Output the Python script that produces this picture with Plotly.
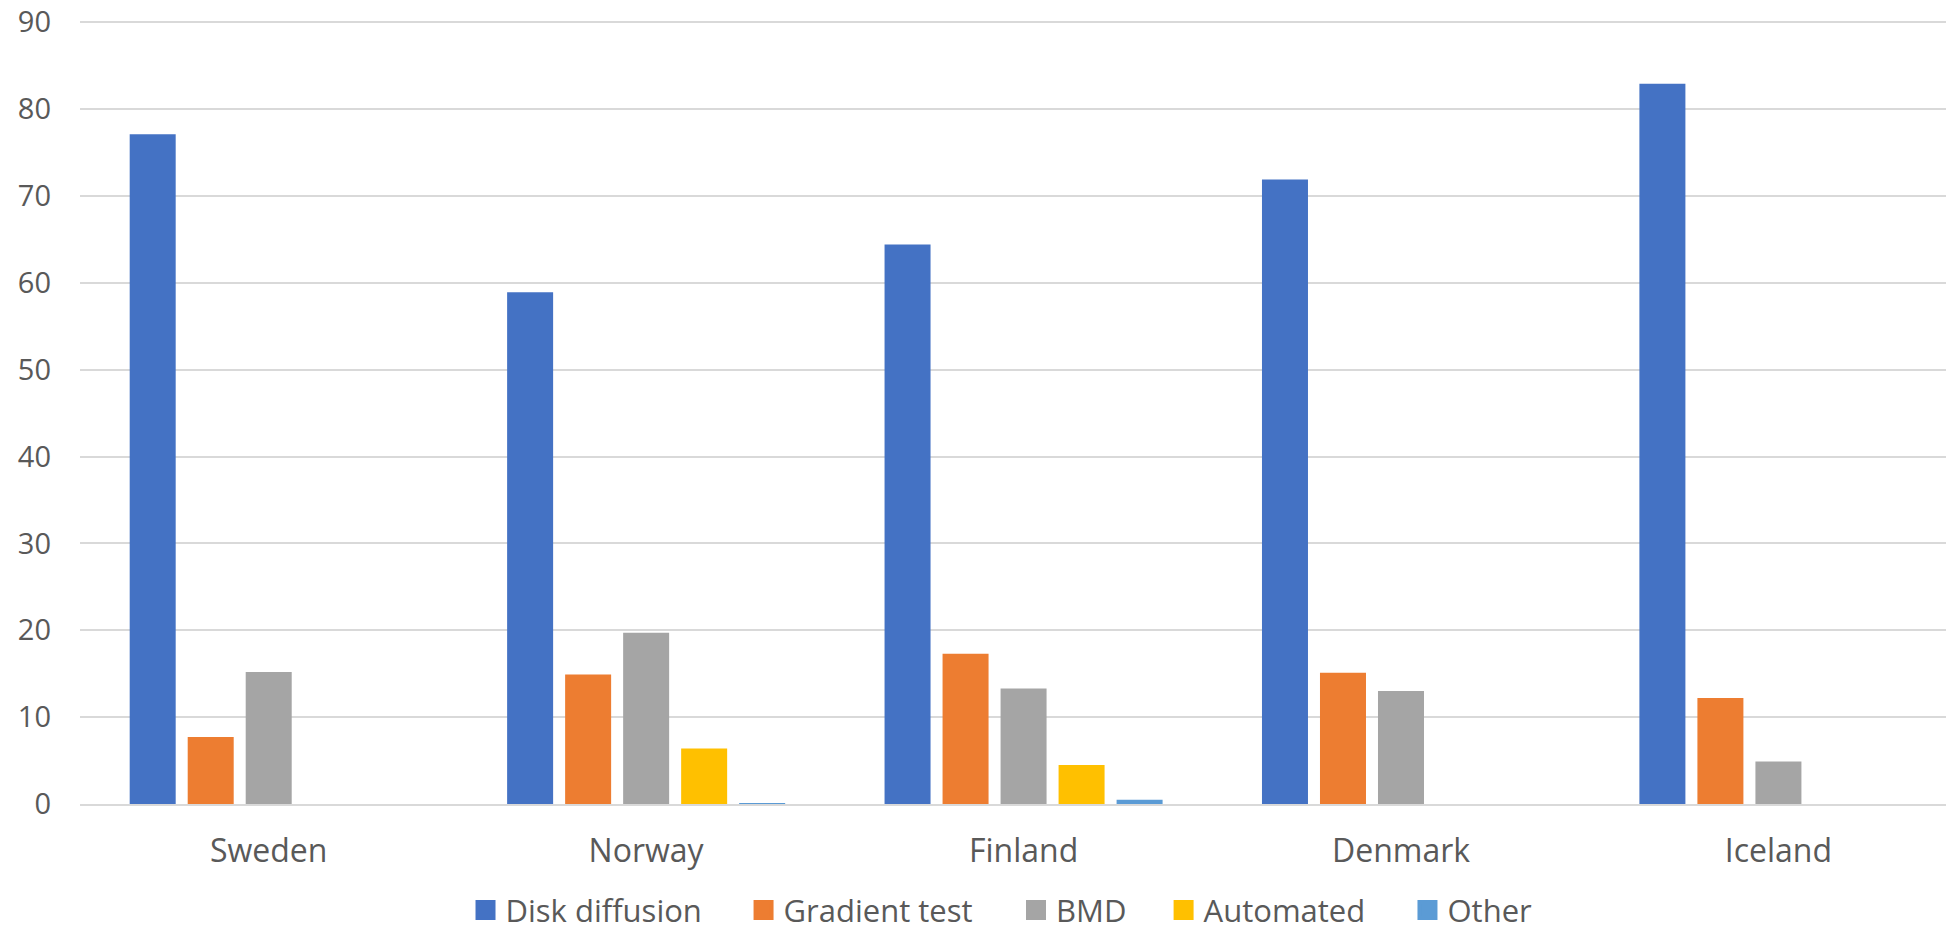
import plotly.graph_objects as go

# Countries on the x axis
countries = ["Sweden", "Norway", "Finland", "Denmark", "Iceland"]

# Share of labs per method (%)
disk_diffusion = [77.1, 58.9, 64.4, 71.9, 82.9]
gradient_test = [7.7, 14.9, 17.3, 15.1, 12.2]
bmd = [15.2, 19.7, 13.3, 13.0, 4.9]
automated = [0, 6.4, 4.5, 0, 0]
other = [0, 0.1, 0.5, 0, 0]

y_ticks = [0, 10, 20, 30, 40, 50, 60, 70, 80, 90]

series = [
    ("Disk diffusion", disk_diffusion, "#4472C4"),
    ("Gradient test", gradient_test, "#ED7D31"),
    ("BMD", bmd, "#A5A5A5"),
    ("Automated", automated, "#FFC000"),
    ("Other", other, "#5B9BD5"),
]

# left edge of each legend entry, as a fraction of the plot width
legend_x = [0.2066, 0.3556, 0.5016, 0.5807, 0.7114]

FONT = "Open Sans"
TEXT_COLOR = "#595959"
GRID_COLOR = "#D9D9D9"

fig = go.Figure()
for i, (name, values, color) in enumerate(series):
    legend_id = "legend" if i == 0 else f"legend{i + 1}"
    fig.add_trace(go.Bar(
        x=countries,
        y=values,
        name=name,
        marker=dict(color=color, line=dict(width=0)),
        showlegend=False,
    ))
    # square swatch for the legend (bar swatches are too small)
    fig.add_trace(go.Scatter(
        x=[None],
        y=[None],
        name=name,
        mode="markers",
        marker=dict(symbol="square", size=16, color=color,
                    line=dict(color=color, width=4)),
        legend=legend_id,
        hoverinfo="skip",
    ))

legend_style = dict(
    orientation="h",
    xanchor="left",
    y=-0.1355,
    yanchor="middle",
    font=dict(family=FONT, size=31, color=TEXT_COLOR),
    itemwidth=30,
    bgcolor="rgba(0,0,0,0)",
    borderwidth=0,
)
legends = {}
for i, x in enumerate(legend_x):
    key = "legend" if i == 0 else f"legend{i + 1}"
    legends[key] = dict(legend_style, x=x)

fig.update_layout(
    width=1938,
    height=922,
    barmode="group",
    bargap=0.2315,
    bargroupgap=0.207,
    plot_bgcolor="white",
    paper_bgcolor="white",
    font=dict(family=FONT, size=32, color=TEXT_COLOR),
    margin=dict(l=72, r=0, t=12, b=126, autoexpand=False),
    showlegend=True,
    **legends,
)

fig.update_xaxes(
    range=[-0.5, 4.444],
    showgrid=False,
    showline=True,
    linecolor=GRID_COLOR,
    linewidth=2,
    ticks="",
    ticklabelstandoff=18,
    tickfont=dict(family=FONT, size=32, color=TEXT_COLOR),
)

# top of range a little above 90 so the 90 gridline is not clipped
fig.update_yaxes(
    range=[0, 90.25],
    tickvals=y_ticks,
    showgrid=True,
    gridcolor=GRID_COLOR,
    gridwidth=2,
    zeroline=False,
    showline=False,
    ticks="",
    ticklabelstandoff=28,
    ticklabeloverflow="allow",
    tickfont=dict(family=FONT, size=29, color=TEXT_COLOR),
)

fig.write_html("out.html")
